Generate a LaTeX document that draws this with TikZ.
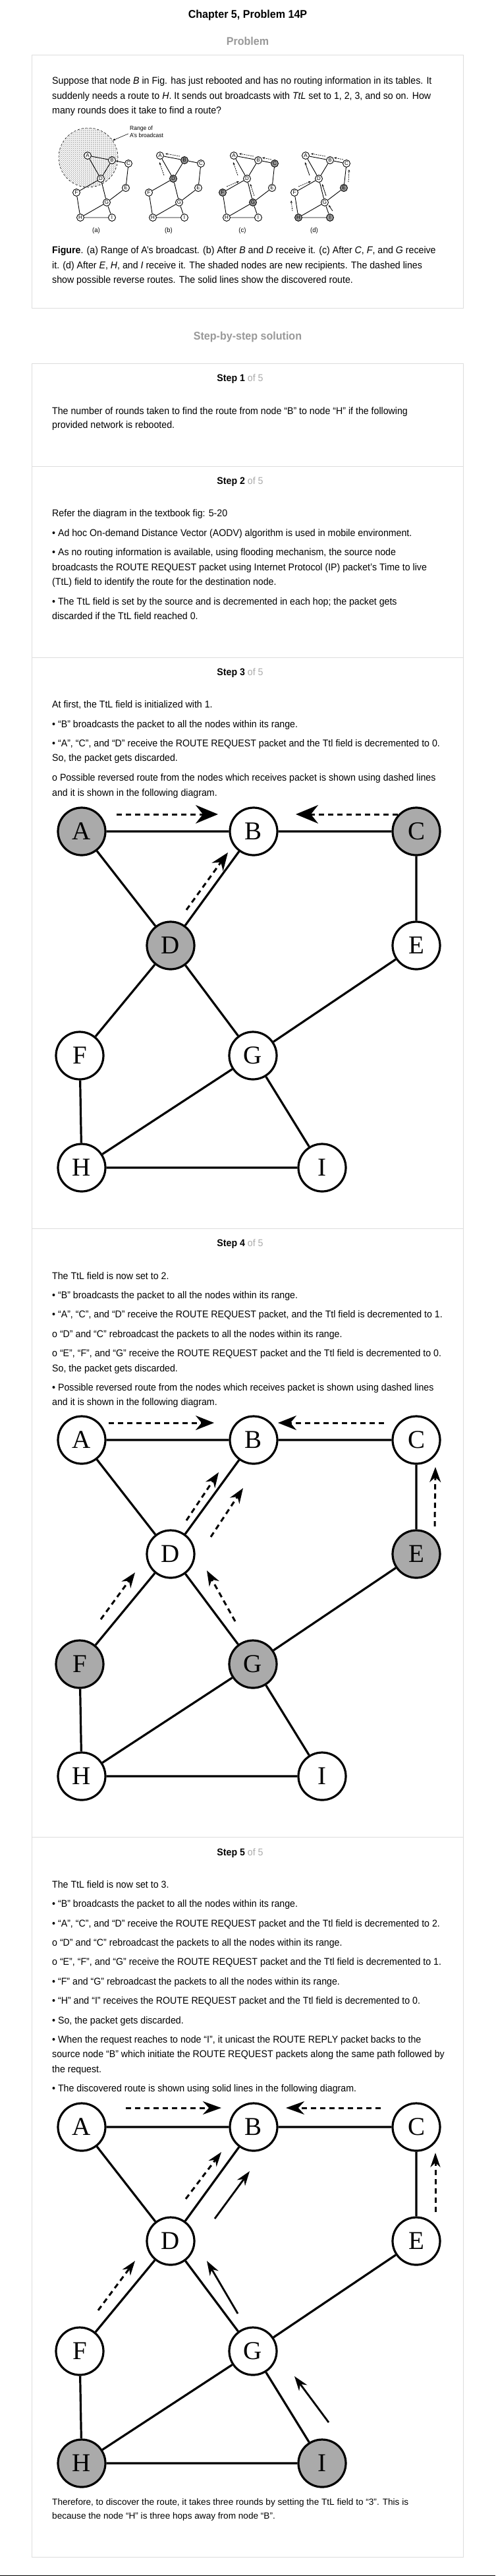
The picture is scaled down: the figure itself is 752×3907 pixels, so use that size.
\documentclass[tikz,border=0pt]{standalone}
\usepackage{fontspec}
\setmainfont{Liberation Sans}
\newfontfamily\bodyfont[FakeStretch=0.945]{Liberation Sans}
\newfontfamily\serifont{Liberation Serif}
\usetikzlibrary{arrows.meta,calc,patterns}
\definecolor{ngray}{RGB}{170,170,170}
\definecolor{sgray}{RGB}{150,150,150}
\definecolor{hgray}{RGB}{153,153,153}
\definecolor{lgray}{RGB}{170,170,170}
\definecolor{bordergray}{RGB}{221,221,221}
\makeatletter
\tikzset{
  fillif/.code 2 args={\in@{#1}{#2}\ifin@\pgfkeysalso{fill=ngray}\else\pgfkeysalso{fill=white}\fi},
  sfillif/.code 2 args={\in@{#1}{#2}\ifin@\pgfkeysalso{fill=sgray}\else\pgfkeysalso{fill=white}\fi}
}
\makeatother
\tikzset{
  txt/.style={anchor=base west, inner sep=0pt, font=\bodyfont\fontsize{15}{18}\selectfont},
  fintxt/.style={anchor=base west, inner sep=0pt, font=\fontsize{13.6}{16}\selectfont},
  head/.style={anchor=base, inner sep=0pt, font=\bodyfont\bfseries\fontsize{17}{20}\selectfont},
  steplbl/.style={anchor=base, inner sep=0pt, font=\bodyfont\fontsize{15}{18}\selectfont},
  panel/.style={draw=bordergray, line width=1pt},
  bn/.style={circle, draw, line width=3.2pt, minimum size=72pt, inner sep=0pt, font=\serifont\fontsize{39}{39}\selectfont},
  edge/.style={line width=3.2pt},
  sn/.style={circle, draw, line width=0.9pt, minimum size=11pt, inner sep=0pt, font=\fontsize{8}{8}\selectfont},
  sedge/.style={line width=0.9pt},
  sdash/.style={line width=0.7pt, dash pattern=on 2pt off 1.2pt, -{Stealth[length=4pt,width=3pt]}},
  ssolid/.style={line width=0.8pt, -{Stealth[length=4pt,width=3pt]}},
  bigdash/.style={line width=3pt, dash pattern=on 8pt off 6pt},
  solidarr/.style={line width=2.8pt},
  h3/.style={-{Stealth[length=34pt,width=28pt]}},
  d3/.style={-{Stealth[length=27pt,width=21pt]}},
  h4/.style={-{Stealth[length=28pt,width=22pt]}},
  d4/.style={-{Stealth[length=23pt,width=17pt]}},
  h5/.style={-{Stealth[length=28pt,width=20pt]}},
  d5/.style={-{Stealth[length=22pt,width=15pt]}}
}
\newcommand\bignet[3]{%
  \node[bn, fillif={A}{#3}] (#1A) at (124,#2) {A};
  \node[bn, fillif={B}{#3}] (#1B) at (385,#2) {B};
  \node[bn, fillif={C}{#3}] (#1C) at (632,#2) {C};
  \node[bn, fillif={D}{#3}] (#1D) at (259,#2+173) {D};
  \node[bn, fillif={E}{#3}] (#1E) at (632,#2+173) {E};
  \node[bn, fillif={F}{#3}] (#1F) at (121,#2+340) {F};
  \node[bn, fillif={G}{#3}] (#1G) at (384,#2+340) {G};
  \node[bn, fillif={H}{#3}] (#1H) at (124,#2+510) {H};
  \node[bn, fillif={I}{#3}] (#1I) at (489,#2+510) {I};
  \draw[edge] (#1A) -- (#1B) (#1B) -- (#1C) (#1A) -- (#1D) (#1B) -- (#1D)
    (#1C) -- (#1E) (#1D) -- (#1F) (#1D) -- (#1G) (#1E) -- (#1G)
    (#1F) -- (#1H) (#1G) -- (#1H) (#1G) -- (#1I) (#1H) -- (#1I);
}
\newcommand\smallnet[3]{%
  \node[sn, sfillif={A}{#3}] (#1A) at (#2,236) {A};
  \node[sn, sfillif={B}{#3}] (#1B) at (#2+37,243) {B};
  \node[sn, sfillif={C}{#3}] (#1C) at (#2+62,248) {C};
  \node[sn, sfillif={D}{#3}] (#1D) at (#2+20,271) {D};
  \node[sn, sfillif={E}{#3}] (#1E) at (#2+58,285) {E};
  \node[sn, sfillif={F}{#3}] (#1F) at (#2-17,292) {F};
  \node[sn, sfillif={G}{#3}] (#1G) at (#2+29,307) {G};
  \node[sn, sfillif={H}{#3}] (#1H) at (#2-11,330) {H};
  \node[sn, sfillif={I}{#3}] (#1I) at (#2+37,330) {I};
  \draw[sedge] (#1A) -- (#1B) (#1B) -- (#1C) (#1A) -- (#1D) (#1B) -- (#1D)
    (#1C) -- (#1E) (#1D) -- (#1F) (#1D) -- (#1G) (#1E) -- (#1G)
    (#1F) -- (#1H) (#1G) -- (#1H) (#1G) -- (#1I) (#1H) -- (#1I);
}
\begin{document}
\begin{tikzpicture}[x=1pt, y=-1pt]
\fill[white] (0,0) rectangle (752,3907);
\useasboundingbox (0,0) rectangle (752,3907);
\draw[line width=1.5pt] (0,3906.2) -- (752,3906.2);

% headings
\node[head] (title) at (376,28) {Chapter 5, Problem 14P};
\node[head, text=hgray] (probhead) at (376,69) {Problem};

% problem panel
\draw[panel] (48,84) rectangle (703,467);
\node[txt] (q1) at (79,128) {Suppose that node \textit{B} in Fig. has just rebooted and has no routing information in its tables. It};
\node[txt] (q2) at (79,151) {suddenly needs a route to \textit{H}. It sends out broadcasts with \textit{TtL} set to 1, 2, 3, and so on. How};
\node[txt] (q3) at (79,173) {many rounds does it take to find a route?};

% small figure
\node[circle, draw, dashed, line width=0.6pt, minimum size=90pt, pattern=north east lines, pattern color=black!60] (range) at (134,239) {};
\node[anchor=base west, inner sep=0pt, font=\bodyfont\fontsize{9}{10}\selectfont] (rng1) at (197,197.5) {Range of};
\node[anchor=base west, inner sep=0pt, font=\bodyfont\fontsize{9}{10}\selectfont] (rng2) at (197,208.5) {A’s broadcast};
\draw[line width=0.6pt, -{Stealth[length=4pt,width=3pt]}] ($(rng2.north west)+(-2,1)$) -- (range.35);
\smallnet{sa}{133}{}
\smallnet{sb}{243}{BD}
\smallnet{sc}{355}{CFG}
\smallnet{sd}{464}{EHI}
% (b)
\draw[sdash] ($(sbB)+(-7,-6)$) -- ($(sbA)+(8,-3)$);
\draw[sdash] ($(sbD)+(-14,-5)$) -- ($(sbA)+(-1,10)$);
% (c)
\draw[sdash] ($(scB)+(-7,-6)$) -- ($(scA)+(8,-3)$);
\draw[sdash] ($(scC)+(-5,-6)$) -- ($(scB)+(6,-4)$);
\draw[sdash] ($(scD)+(-14,-5)$) -- ($(scA)+(-1,10)$);
\draw[sdash] ($(scF)+(6,-9)$) -- ($(scD)+(-12,4)$);
\draw[sdash] ($(scG)+(2,-10)$) -- ($(scD)+(5,8)$);
% (d)
\draw[sdash] ($(sdB)+(-7,-6)$) -- ($(sdA)+(8,-3)$);
\draw[sdash] ($(sdC)+(-5,-6)$) -- ($(sdB)+(6,-4)$);
\draw[ssolid] ($(sdD)+(-14,-5)$) -- ($(sdA)+(-1,10)$);
\draw[sdash] ($(sdF)+(6,-9)$) -- ($(sdD)+(-12,4)$);
\draw[ssolid] ($(sdG)+(2,-10)$) -- ($(sdD)+(5,8)$);
\draw[sdash] ($(sdE)+(7,-9)$) -- ($(sdC)+(4,9)$);
\draw[sdash] ($(sdH)+(-9,-10)$) -- ($(sdF)+(-5,12)$);
\draw[ssolid] ($(sdI)+(4,-10)$) -- ($(sdG)+(6,4)$);
\node[anchor=base, inner sep=0pt, font=\bodyfont\fontsize{10}{10}\selectfont] (lba) at (146,352) {(a)};
\node[anchor=base, inner sep=0pt, font=\bodyfont\fontsize{10}{10}\selectfont] (lbb) at (256,352) {(b)};
\node[anchor=base, inner sep=0pt, font=\bodyfont\fontsize{10}{10}\selectfont] (lbc) at (368,352) {(c)};
\node[anchor=base, inner sep=0pt, font=\bodyfont\fontsize{10}{10}\selectfont] (lbd) at (477,352) {(d)};

\node[txt] (cap1) at (79,384) {\textbf{Figure}. (a) Range of A’s broadcast. (b) After \textit{B} and \textit{D} receive it. (c) After \textit{C}, \textit{F}, and \textit{G} receive};
\node[txt] (cap2) at (79,407) {it. (d) After \textit{E}, \textit{H}, and \textit{I} receive it. The shaded nodes are new recipients. The dashed lines};
\node[txt] (cap3) at (79,429) {show possible reverse routes. The solid lines show the discovered route.};

% solution
\node[head, text=hgray] (solhead) at (376,515) {Step-by-step solution};
\draw[panel] (48,551) rectangle (703,3878);
\draw[panel] (48,707) -- (703,707);
\draw[panel] (48,997) -- (703,997);
\draw[panel] (48,1863) -- (703,1863);
\draw[panel] (48,2786) -- (703,2786);

% step 1
\node[steplbl] (st1) at (364.5,578) {\textbf{Step 1} \textcolor{lgray}{of 5}};
\node[txt] (a1) at (79,628) {The number of rounds taken to find the route from node “B” to node “H” if the following};
\node[txt] (a2) at (79,649) {provided network is rebooted.};

% step 2
\node[steplbl] (st2) at (364.5,734) {\textbf{Step 2} \textcolor{lgray}{of 5}};
\node[txt] (b1) at (79,783) {Refer the diagram in the textbook fig: 5-20};
\node[txt] (b2) at (79,813) {• Ad hoc On-demand Distance Vector (AODV) algorithm is used in mobile environment.};
\node[txt] (b3) at (79,842) {• As no routing information is available, using flooding mechanism, the source node};
\node[txt] (b4) at (79,865) {broadcasts the ROUTE REQUEST packet using Internet Protocol (IP) packet’s Time to live};
\node[txt] (b5) at (79,887) {(TtL) field to identify the route for the destination node.};
\node[txt] (b6) at (79,917) {• The TtL field is set by the source and is decremented in each hop; the packet gets};
\node[txt] (b7) at (79,939) {discarded if the TtL field reached 0.};

% step 3
\node[steplbl] (st3) at (364.5,1024) {\textbf{Step 3} \textcolor{lgray}{of 5}};
\node[txt] (c1) at (79,1073) {At first, the TtL field is initialized with 1.};
\node[txt] (c2) at (79,1103) {• “B” broadcasts the packet to all the nodes within its range.};
\node[txt] (c3) at (79,1132) {• “A”, “C”, and “D” receive the ROUTE REQUEST packet and the Ttl field is decremented to 0.};
\node[txt] (c4) at (79,1154) {So, the packet gets discarded.};
\node[txt] (c5) at (79,1184) {o Possible reversed route from the nodes which receives packet is shown using dashed lines};
\node[txt] (c6) at (79,1207) {and it is shown in the following diagram.};
\bignet{p}{1261}{ACD}
\draw[bigdash,h3] ($(pA)+(53,-26)$) -- ($(pB)+(-54,-26)$);
\draw[bigdash,h3] ($(pC)+(-28,-26)$) -- ($(pB)+(64,-26)$);
\draw[bigdash,d3] ($(pD)+(24,-54)$) -- ($(pB)+(-39,32)$);

% step 4
\node[steplbl] (st4) at (364.5,1890) {\textbf{Step 4} \textcolor{lgray}{of 5}};
\node[txt] (e1) at (79,1940) {The TtL field is now set to 2.};
\node[txt] (e2) at (79,1969) {• “B” broadcasts the packet to all the nodes within its range.};
\node[txt] (e3) at (79,1998) {• “A”, “C”, and “D” receive the ROUTE REQUEST packet, and the Ttl field is decremented to 1.};
\node[txt] (e4) at (79,2028) {o “D” and “C” rebroadcast the packets to all the nodes within its range.};
\node[txt] (e5) at (79,2057) {o “E”, “F”, and “G” receive the ROUTE REQUEST packet and the Ttl field is decremented to 0.};
\node[txt] (e6) at (79,2080) {So, the packet gets discarded.};
\node[txt] (e7) at (79,2109) {• Possible reversed route from the nodes which receives packet is shown using dashed lines};
\node[txt] (e8) at (79,2131) {and it is shown in the following diagram.};
\bignet{q}{2184}{EFG}
\draw[bigdash,h4] ($(qA)+(41,-26)$) -- ($(qB)+(-60,-26)$);
\draw[bigdash,h4] ($(qC)+(-49,-26)$) -- ($(qB)+(37,-26)$);
\draw[bigdash,d4] ($(qD)+(24,-51)$) -- ($(qB)+(-53,49)$);
\draw[bigdash,d4] ($(qD)+(61,-26)$) -- ($(qB)+(-16,73)$);
\draw[bigdash,d4] ($(qE)+(28,-42)$) -- ($(qC)+(29,41)$);
\draw[bigdash,d4] ($(qF)+(32,-68)$) -- ($(qD)+(-54,28)$);
\draw[bigdash,d4] ($(qG)+(-27,-65)$) -- ($(qD)+(55,25)$);

% step 5
\node[steplbl] (st5) at (364.5,2814) {\textbf{Step 5} \textcolor{lgray}{of 5}};
\node[txt] (f1) at (79,2863) {The TtL field is now set to 3.};
\node[txt] (f2) at (79,2892) {• “B” broadcasts the packet to all the nodes within its range.};
\node[txt] (f3) at (79,2922) {• “A”, “C”, and “D” receive the ROUTE REQUEST packet and the Ttl field is decremented to 2.};
\node[txt] (f4) at (79,2951) {o “D” and “C” rebroadcast the packets to all the nodes within its range.};
\node[txt] (f5) at (79,2980) {o “E”, “F”, and “G” receive the ROUTE REQUEST packet and the Ttl field is decremented to 1.};
\node[txt] (f6) at (79,3010) {• “F” and “G” rebroadcast the packets to all the nodes within its range.};
\node[txt] (f7) at (79,3039) {• “H” and “I” receives the ROUTE REQUEST packet and the Ttl field is decremented to 0.};
\node[txt] (f8) at (79,3069) {• So, the packet gets discarded.};
\node[txt] (f9) at (79,3098) {• When the request reaches to node “I”, it unicast the ROUTE REPLY packet backs to the};
\node[txt] (f10) at (79,3120) {source node “B” which initiate the ROUTE REQUEST packets along the same path followed by};
\node[txt] (f11) at (79,3143) {the request.};
\node[txt] (f12) at (79,3172) {• The discovered route is shown using solid lines in the following diagram.};
\bignet{r}{3226}{HI}
\draw[bigdash,h5] ($(rA)+(67,-29)$) -- ($(rB)+(-49,-29)$);
\draw[bigdash,h5] ($(rC)+(-54,-29)$) -- ($(rB)+(49,-29)$);
\draw[bigdash,d5] ($(rD)+(23,-64)$) -- ($(rB)+(-49,38)$);
\draw[solidarr,d5] ($(rD)+(67,-34)$) -- ($(rB)+(-6,67)$);
\draw[bigdash,d5] ($(rE)+(29,-44)$) -- ($(rC)+(29,39)$);
\draw[bigdash,d5] ($(rF)+(28,-62)$) -- ($(rD)+(-54,30)$);
\draw[solidarr,d5] ($(rG)+(-23,-57)$) -- ($(rD)+(55,30)$);
\draw[solidarr,d5] ($(rI)+(10,-62)$) -- ($(rG)+(63,38)$);
\node[fintxt] (g1) at (79,3799) {Therefore, to discover the route, it takes three rounds by setting the TtL field to “3”. This is};
\node[fintxt] (g2) at (79,3820) {because the node “H” is three hops away from node “B”.};
\end{tikzpicture}
\end{document}
